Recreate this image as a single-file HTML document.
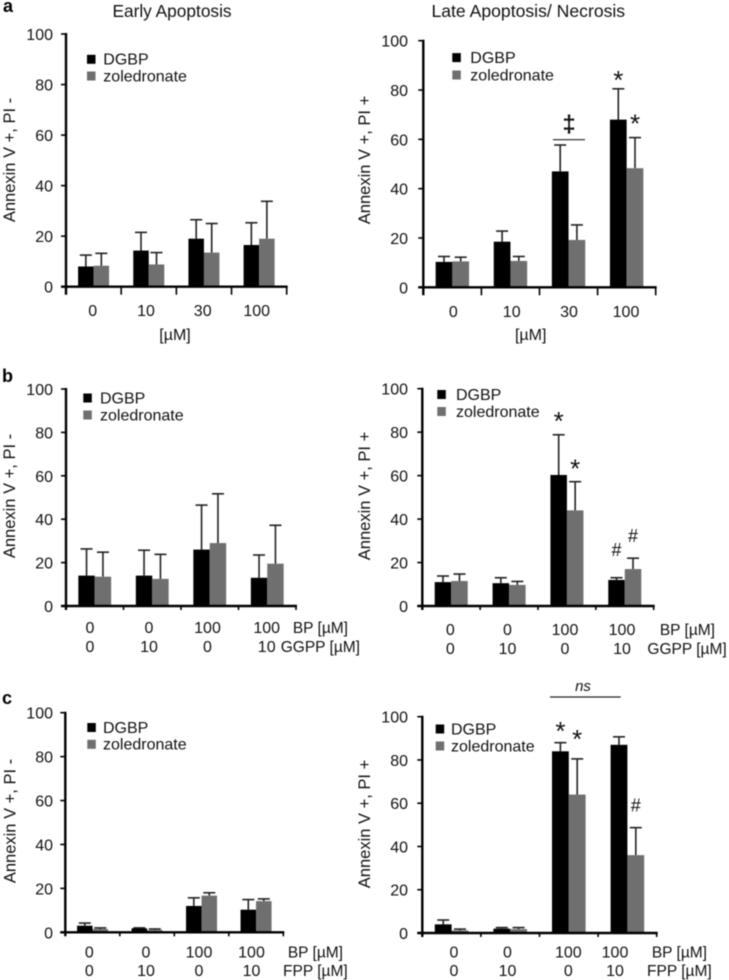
<!DOCTYPE html>
<html lang="en">
<head>
<meta charset="utf-8">
<title>Annexin V apoptosis bar charts</title>
<style>
html,body{margin:0;padding:0;background:#fff;}
body{width:729px;height:980px;overflow:hidden;}
svg{display:block;filter:blur(0.45px);font-family:"Liberation Sans",sans-serif;}
text{fill:#111;}
</style>
</head>
<body>
<svg id="figure" xmlns="http://www.w3.org/2000/svg" width="729" height="980" viewBox="0 0 729 980">
  <text x="3" y="12" font-size="18" font-weight="bold" style="fill:#000">a</text>
  <text x="2" y="382" font-size="18" font-weight="bold" style="fill:#000">b</text>
  <text x="2" y="704" font-size="18" font-weight="bold" style="fill:#000">c</text>
  <text x="172" y="17" font-size="17.3" text-anchor="middle">Early Apoptosis</text>
  <text x="528.3" y="17" font-size="17.6" text-anchor="middle">Late Apoptosis/ Necrosis</text>
</svg>
<script>
// Chart data: bar values and upper error lengths.
const yTickValues = [0, 20, 40, 60, 80, 100];
const concentrationLabels = ['0', '10', '30', '100'];
const bpLabels = ['0', '0', '100', '100'];
const prenylLabels = ['0', '10', '0', '10'];

const aEarlyDgbp = [8, 14.3, 19, 16.5];
const aEarlyZol = [8.3, 8.8, 13.5, 19];
const aEarlyDgbpErr = [4.5, 7.2, 7.5, 8.8];
const aEarlyZolErr = [4.9, 4.7, 11.5, 14.8];

const aLateDgbp = [10.3, 18.5, 47, 68];
const aLateZol = [10.5, 10.7, 19.2, 48.3];
const aLateDgbpErr = [2.2, 4.3, 10.7, 12.5];
const aLateZolErr = [1.7, 1.8, 6.1, 12.4];

const bEarlyDgbp = [14, 14, 26, 13];
const bEarlyZol = [13.5, 12.5, 29, 19.5];
const bEarlyDgbpErr = [12.3, 11.7, 20.5, 10.5];
const bEarlyZolErr = [11.3, 11.3, 22.7, 17.7];

const bLateDgbp = [11, 10.5, 60.3, 12];
const bLateZol = [11.5, 9.7, 44, 17];
const bLateDgbpErr = [2.8, 2.5, 18.5, 1];
const bLateZolErr = [3.2, 1.6, 13.2, 5];

const cEarlyDgbp = [3, 1.8, 12, 10.3];
const cEarlyZol = [1.5, 1, 16.7, 14.2];
const cEarlyDgbpErr = [1.2, 0.2, 3.7, 4.6];
const cEarlyZolErr = [0.5, 0.5, 1.3, 1];

const cLateDgbp = [4, 2, 84, 87];
const cLateZol = [1.2, 1.8, 64, 36];
const cLateDgbpErr = [2, 0.5, 4, 3.7];
const cLateZolErr = [0.6, 0.7, 16.5, 12.7];

const svg = document.getElementById('figure');
const NS = 'http://www.w3.org/2000/svg';

function make(tag, attrs, name, text) {
  const node = document.createElementNS(NS, tag);
  for (const key in attrs) node.setAttribute(key, attrs[key]);
  
  
  if (text !== undefined) node.textContent = text;
  return node;
}

function drawPanel(p) {
  const group = document.createElementNS(NS, 'g');
  
  
  svg.appendChild(group);
  const add = (tag, attrs, name, text) => group.appendChild(make(tag, attrs, name, text));

  const yScale = v => p.y0 - v * (p.y0 - p.y100) / 100;
  const step = (p.xEnd - p.x0) / 4;
  const groupCenter = i => p.x0 + (i + 0.5) * step;
  const seriesCenter = (i, s) => groupCenter(i) + (s === 0 ? -p.barW / 2 : p.barW / 2);

  const series = [
    {key: 'dgbp', values: p.dgbp, errs: p.dgbpErr, color: '#000', left: i => groupCenter(i) - p.barW},
    {key: 'zoledronate', values: p.zol, errs: p.zolErr, color: '#6f6f6f', left: i => groupCenter(i)}
  ];

  series.forEach((s, si) => {
    s.values.forEach((v, i) => {
      const cx = seriesCenter(i, si);
      const top = yScale(v + s.errs[i]);
      add('line', {x1: cx, x2: cx, y1: yScale(v), y2: top, stroke: '#222', 'stroke-width': 1.6},
        p.id + '-' + s.key + '-error-stem-' + i);
      add('line', {x1: cx - 6, x2: cx + 6, y1: top, y2: top, stroke: '#222', 'stroke-width': 1.6},
        p.id + '-' + s.key + '-error-cap-' + i);
      add('rect', {x: s.left(i), y: yScale(v), width: p.barW, height: p.y0 - yScale(v), fill: s.color},
        p.id + '-' + s.key + '-bar-' + i);
    });
  });

  add('line', {x1: p.x0, x2: p.x0, y1: p.y100 - 1, y2: p.y0 + p.xTick, stroke: '#000', 'stroke-width': 2.4}, p.id + '-y-axis');
  add('line', {x1: p.x0 - 5, x2: p.xEnd + 1, y1: p.y0, y2: p.y0, stroke: '#000', 'stroke-width': 2.4}, p.id + '-x-axis');

  yTickValues.forEach(v => {
    add('line', {x1: p.x0 - 5, x2: p.x0, y1: yScale(v), y2: yScale(v), stroke: '#000', 'stroke-width': 1.6}, p.id + '-y-tick-' + v);
    add('text', {x: p.tickEnd, y: yScale(v) + 6, 'font-size': 16, 'text-anchor': 'end'}, p.id + '-y-tick-label-' + v, String(v));
  });
  for (let i = 1; i <= 4; i++) {
    const x = p.x0 + i * step;
    add('line', {x1: x, x2: x, y1: p.y0, y2: p.y0 + p.xTick, stroke: '#000', 'stroke-width': 1.6}, p.id + '-x-tick-' + i);
  }

  add('text', {
    transform: 'translate(' + p.titleX + ',' + p.titleY + ') rotate(-90)',
    'font-size': 16.5, 'text-anchor': 'middle'
  }, p.id + '-y-axis-title', p.title);

  p.rows.forEach((row, r) => {
    row.labels.forEach((label, i) => {
      add('text', {x: p.labelAt[i], y: row.y, 'font-size': 16, 'text-anchor': 'middle'}, p.id + '-x-label-row' + r + '-' + i, label);
    });
    if (row.name) {
      add('text', {x: row.nameEnd, y: row.y, 'font-size': 15.5, 'text-anchor': 'end'}, p.id + '-row-title-' + r, row.name);
    }
  });
  if (p.unitX) {
    add('text', {x: p.unitX, y: 340, 'font-size': 16, 'text-anchor': 'middle'}, p.id + '-unit-label', '[\u00b5M]');
  }

  const lg = p.legend;
  add('rect', {x: lg.x, y: lg.y1 - 4.5, width: 8.5, height: 9, fill: '#000'}, p.id + '-legend-swatch-dgbp');
  add('text', {x: lg.tx, y: lg.y1 + 5.3, 'font-size': 16}, p.id + '-legend-label-dgbp', 'DGBP');
  add('rect', {x: lg.x, y: lg.y2 - 4.5, width: 8.5, height: 9, fill: '#6f6f6f'}, p.id + '-legend-swatch-zoledronate');
  add('text', {x: lg.tx, y: lg.y2 + 5.3, 'font-size': 16}, p.id + '-legend-label-zoledronate', 'zoledronate');

  (p.marks || []).forEach((m, k) => {
    const values = m.s === 0 ? p.dgbp : p.zol;
    const errs = m.s === 0 ? p.dgbpErr : p.zolErr;
    add('text', {
      x: seriesCenter(m.g, m.s) + m.dx,
      y: yScale(values[m.g] + errs[m.g]) + m.dy,
      'font-size': m.t === '#' ? 18 : 26,
      'text-anchor': 'middle'
    }, p.id + '-significance-mark-' + k, m.t);
  });
}

drawPanel({
  id: 'a-early', x0: 66, xEnd: 286.7, y0: 286.7, y100: 34, barW: 15.5, xTick: 8, tickEnd: 53,
  dgbp: aEarlyDgbp, zol: aEarlyZol, dgbpErr: aEarlyDgbpErr, zolErr: aEarlyZolErr,
  title: 'Annexin V +, PI -', titleX: 15, titleY: 160,
  labelAt: [92.7, 146, 202.7, 256.7],
  rows: [{labels: concentrationLabels, y: 316}], unitX: 175,
  legend: {x: 87, tx: 103.3, y1: 59.3, y2: 76}
});

drawPanel({
  id: 'a-late', x0: 423.3, xEnd: 655.7, y0: 287.3, y100: 40.7, barW: 16.7, xTick: 8, tickEnd: 408,
  dgbp: aLateDgbp, zol: aLateZol, dgbpErr: aLateDgbpErr, zolErr: aLateZolErr,
  title: 'Annexin V +, PI +', titleX: 370, titleY: 160,
  labelAt: [453.3, 511.7, 569, 626],
  rows: [{labels: concentrationLabels, y: 317}], unitX: 530.7,
  legend: {x: 452.3, tx: 470.3, y1: 57.6, y2: 75},
  marks: [{g: 3, s: 0, t: '*', dx: 0, dy: 0}, {g: 3, s: 1, t: '*', dx: 0, dy: -5}]
});

drawPanel({
  id: 'b-early', x0: 66, xEnd: 296, y0: 606, y100: 389, barW: 16.4, xTick: 4, tickEnd: 53,
  dgbp: bEarlyDgbp, zol: bEarlyZol, dgbpErr: bEarlyDgbpErr, zolErr: bEarlyZolErr,
  title: 'Annexin V +, PI -', titleX: 15, titleY: 496,
  labelAt: [90, 149, 207.5, 266.7],
  rows: [
    {labels: bpLabels, y: 633, name: 'BP [\u00b5M]', nameEnd: 348},
    {labels: prenylLabels, y: 652, name: 'GGPP [\u00b5M]', nameEnd: 360}
  ],
  legend: {x: 83.3, tx: 100, y1: 398, y2: 415}
});

drawPanel({
  id: 'b-late', x0: 422.3, xEnd: 653.7, y0: 606, y100: 388.7, barW: 16.5, xTick: 4, tickEnd: 408,
  dgbp: bLateDgbp, zol: bLateZol, dgbpErr: bLateDgbpErr, zolErr: bLateZolErr,
  title: 'Annexin V +, PI +', titleX: 370, titleY: 496,
  labelAt: [450.3, 507.5, 565, 622],
  rows: [
    {labels: bpLabels, y: 635, name: 'BP [\u00b5M]', nameEnd: 715},
    {labels: prenylLabels, y: 654, name: 'GGPP [\u00b5M]', nameEnd: 726.7}
  ],
  legend: {x: 437.3, tx: 456, y1: 394.5, y2: 411.5},
  marks: [
    {g: 2, s: 0, t: '*', dx: 0, dy: -5}, {g: 2, s: 1, t: '*', dx: 0, dy: -4},
    {g: 3, s: 0, t: '#', dx: 0, dy: -22}, {g: 3, s: 1, t: '#', dx: 0, dy: -16}
  ]
});

drawPanel({
  id: 'c-early', x0: 65.3, xEnd: 283.3, y0: 932.3, y100: 712.7, barW: 15.5, xTick: 4, tickEnd: 53,
  dgbp: cEarlyDgbp, zol: cEarlyZol, dgbpErr: cEarlyDgbpErr, zolErr: cEarlyZolErr,
  title: 'Annexin V +, PI -', titleX: 15.5, titleY: 821,
  labelAt: [89.3, 146, 199, 251.5],
  rows: [
    {labels: bpLabels, y: 957.5, name: 'BP [\u00b5M]', nameEnd: 343},
    {labels: prenylLabels, y: 976, name: 'FPP [\u00b5M]', nameEnd: 347.7}
  ],
  legend: {x: 87.3, tx: 103, y1: 727.5, y2: 744.3}
});

drawPanel({
  id: 'c-late', x0: 422.3, xEnd: 656.7, y0: 933, y100: 716.7, barW: 16.8, xTick: 4, tickEnd: 408,
  dgbp: cLateDgbp, zol: cLateZol, dgbpErr: cLateDgbpErr, zolErr: cLateZolErr,
  title: 'Annexin V +, PI +', titleX: 370, titleY: 824,
  labelAt: [454, 507.5, 568.3, 615],
  rows: [
    {labels: bpLabels, y: 957.5, name: 'BP [\u00b5M]', nameEnd: 707},
    {labels: prenylLabels, y: 976, name: 'FPP [\u00b5M]', nameEnd: 711.7}
  ],
  legend: {x: 435.7, tx: 451, y1: 729, y2: 746},
  marks: [
    {g: 2, s: 0, t: '*', dx: 0, dy: -2.6}, {g: 2, s: 1, t: '*', dx: 0, dy: -11},
    {g: 3, s: 1, t: '#', dx: 0, dy: -16}
  ]
});

const dagger = make('text', {x: 569, y: 132, 'font-size': 24, 'font-weight': 'bold', 'text-anchor': 'middle'}, 'double-dagger-significance', '\u2021');
svg.appendChild(dagger);
const daggerLine = make('line', {x1: 553, x2: 585, y1: 139.7, y2: 139.7, stroke: '#222', 'stroke-width': 1.2}, 'double-dagger-bracket');
svg.appendChild(daggerLine);
const nsText = make('text', {x: 583, y: 691, 'font-size': 15, 'font-style': 'italic', 'text-anchor': 'middle'}, 'ns-label', 'ns');
svg.appendChild(nsText);
const nsLine = make('line', {x1: 550, x2: 620.7, y1: 697, y2: 697, stroke: '#222', 'stroke-width': 1.2}, 'ns-bracket');
svg.appendChild(nsLine);
</script>
</body>
</html>
